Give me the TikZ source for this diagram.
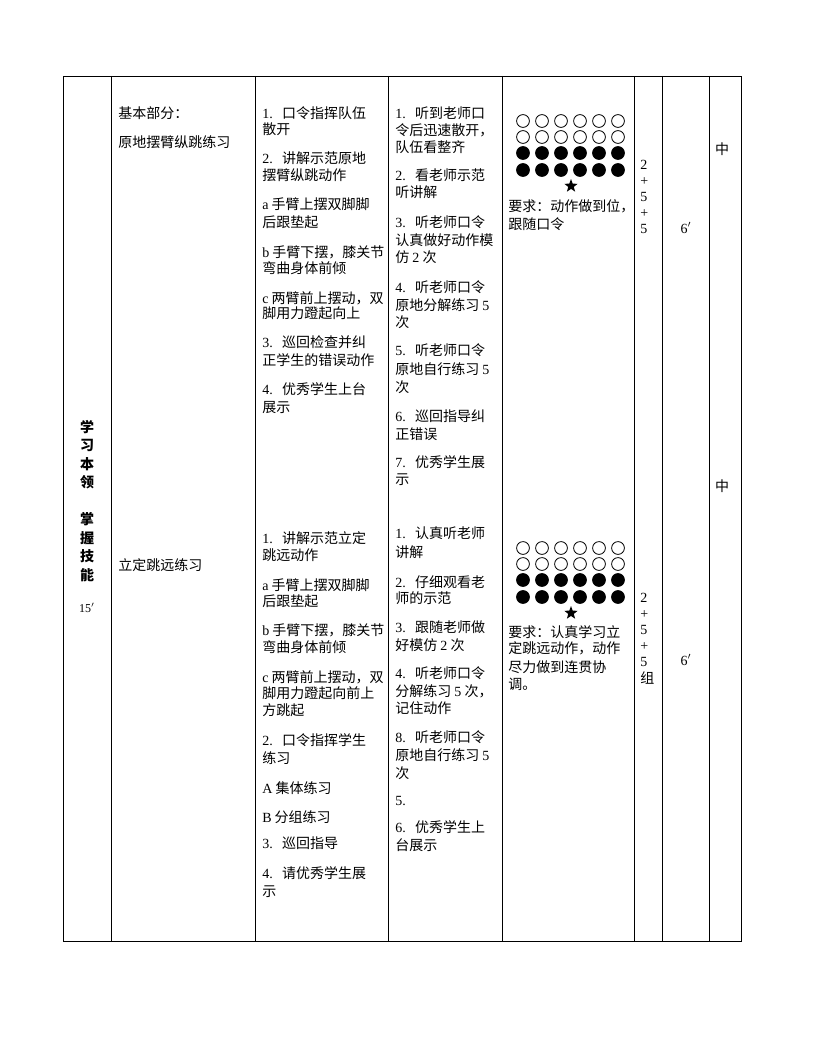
\documentclass[tikz,border=0pt]{standalone}
\usepackage{fontspec}
\setmainfont{Liberation Serif}
\newfontfamily\cjk{Noto Sans CJK SC}
\usetikzlibrary{shapes.geometric}
\newcommand\rn[1]{{\rmfamily #1}}
\newcommand\hs{\hspace{7pt}}
\newcommand\mytxt[4]{\node[tx] (#1) at (#2,#3) {#4};}
\begin{document}
\begin{tikzpicture}[x=0.75pt,y=-0.75pt,
  tx/.style={anchor=west,inner sep=0pt,font=\cjk\fontsize{10.5pt}{12pt}\selectfont,text height=9.2pt,text depth=1.3pt},
  ctx/.style={tx,anchor=center},
  vtx/.style={ctx,font=\cjk\bfseries\fontsize{10.5pt}{12pt}\selectfont},
  small/.style={ctx,font=\rmfamily\fontsize{9pt}{10pt}\selectfont},
  mid/.style={ctx,font=\rmfamily\fontsize{10.5pt}{12pt}\selectfont},
  grid/.style={line width=0.6pt},
  oc/.style={circle,draw,line width=0.6pt,minimum size=9.6pt,inner sep=0pt},
  fc/.style={circle,fill=black,minimum size=10.3pt,inner sep=0pt},
  st/.style={star,star points=5,star point ratio=2.4,fill=black,minimum size=10.5pt,inner sep=0pt}]
\useasboundingbox (0,0) rectangle (816,1056);
% table frame
\draw[grid] (63,76) rectangle (741,941);
\foreach \x in {111,255,388,502,634,662,709} \draw[grid] (\x,76) -- (\x,941);

% column 1 (vertical title)
\node[vtx] (v1) at (87,427) {学};
\node[vtx] (v2) at (87,445.5) {习};
\node[vtx] (v3) at (87,464) {本};
\node[vtx] (v4) at (87,482.5) {领};
\node[vtx] (v5) at (87,519.5) {掌};
\node[vtx] (v6) at (87,538) {握};
\node[vtx] (v7) at (87,556.5) {技};
\node[vtx] (v8) at (87,575) {能};
\node[small] (v9) at (87,607) {15$'$};

% column 2
\mytxt{b1}{118}{113}{基本部分：}
\mytxt{b2}{118}{142}{原地摆臂纵跳练习}
\mytxt{b3}{118}{565}{立定跳远练习}

% column 3 upper
\mytxt{c1}{262}{113}{\rn{1.}\hs 口令指挥队伍}
\mytxt{c2}{262}{129}{散开}
\mytxt{c3}{262}{158}{\rn{2.}\hs 讲解示范原地}
\mytxt{c4}{262}{175}{摆臂纵跳动作}
\mytxt{c5}{262}{204}{\rn{a} 手臂上摆双脚脚}
\mytxt{c6}{262}{222}{后跟垫起}
\mytxt{c7}{262}{252}{\rn{b} 手臂下摆，膝关节}
\mytxt{c8}{262}{268}{弯曲身体前倾}
\mytxt{c9}{262}{298}{\rn{c} 两臂前上摆动，双}
\mytxt{c10}{262}{313}{脚用力蹬起向上}
\mytxt{c11}{262}{342}{\rn{3.}\hs 巡回检查并纠}
\mytxt{c12}{262}{360}{正学生的错误动作}
\mytxt{c13}{262}{389}{\rn{4.}\hs 优秀学生上台}
\mytxt{c14}{262}{407}{展示}

% column 3 lower
\mytxt{d1}{262}{538}{\rn{1.}\hs 讲解示范立定}
\mytxt{d2}{262}{555}{跳远动作}
\mytxt{d3}{262}{585}{\rn{a} 手臂上摆双脚脚}
\mytxt{d4}{262}{601}{后跟垫起}
\mytxt{d5}{262}{630}{\rn{b} 手臂下摆，膝关节}
\mytxt{d6}{262}{647}{弯曲身体前倾}
\mytxt{d7}{262}{677}{\rn{c} 两臂前上摆动，双}
\mytxt{d8}{262}{693}{脚用力蹬起向前上}
\mytxt{d9}{262}{710}{方跳起}
\mytxt{d10}{262}{740}{\rn{2.}\hs 口令指挥学生}
\mytxt{d11}{262}{758}{练习}
\mytxt{d12}{262}{788}{\rn{A} 集体练习}
\mytxt{d13}{262}{817}{\rn{B} 分组练习}
\mytxt{d14}{262}{843}{\rn{3.}\hs 巡回指导}
\mytxt{d15}{262}{873}{\rn{4.}\hs 请优秀学生展}
\mytxt{d16}{262}{891}{示}

% column 4 upper
\mytxt{e1}{395}{113}{\rn{1.}\hs 听到老师口}
\mytxt{e2}{395}{130}{令后迅速散开，}
\mytxt{e3}{395}{147}{队伍看整齐}
\mytxt{e4}{395}{175}{\rn{2.}\hs 看老师示范}
\mytxt{e5}{395}{192}{听讲解}
\mytxt{e6}{395}{222}{\rn{3.}\hs 听老师口令}
\mytxt{e7}{395}{240}{认真做好动作模}
\mytxt{e8}{395}{257}{仿 \rn{2} 次}
\mytxt{e9}{395}{287}{\rn{4.}\hs 听老师口令}
\mytxt{e10}{395}{305}{原地分解练习 \rn{5}}
\mytxt{e11}{395}{322}{次}
\mytxt{e12}{395}{350}{\rn{5.}\hs 听老师口令}
\mytxt{e13}{395}{369}{原地自行练习 \rn{5}}
\mytxt{e14}{395}{387}{次}
\mytxt{e15}{395}{416}{\rn{6.}\hs 巡回指导纠}
\mytxt{e16}{395}{434}{正错误}
\mytxt{e17}{395}{462}{\rn{7.}\hs 优秀学生展}
\mytxt{e18}{395}{479}{示}

% column 4 lower
\mytxt{f1}{395}{533}{\rn{1.}\hs 认真听老师}
\mytxt{f2}{395}{552}{讲解}
\mytxt{f3}{395}{582}{\rn{2.}\hs 仔细观看老}
\mytxt{f4}{395}{598}{师的示范}
\mytxt{f5}{395}{627}{\rn{3.}\hs 跟随老师做}
\mytxt{f6}{395}{645}{好模仿 \rn{2} 次}
\mytxt{f7}{395}{673}{\rn{4.}\hs 听老师口令}
\mytxt{f8}{395}{691}{分解练习 \rn{5} 次，}
\mytxt{f9}{395}{708}{记住动作}
\mytxt{f10}{395}{737}{\rn{8.}\hs 听老师口令}
\mytxt{f11}{395}{755}{原地自行练习 \rn{5}}
\mytxt{f12}{395}{773}{次}
\mytxt{f13}{395}{800}{\rn{5.}}
\mytxt{f14}{395}{827}{\rn{6.}\hs 优秀学生上}
\mytxt{f15}{395}{845}{台展示}

% column 5 upper formation
\foreach \i in {0,...,5} {
  \node[oc] (ua\i) at ({523+19*\i},121) {};
  \node[oc] (ub\i) at ({523+19*\i},137) {};
  \node[fc] (uc\i) at ({523+19*\i},153) {};
  \node[fc] (ud\i) at ({523+19*\i},170) {};
}
\node[st] (us) at (571,186) {};
\mytxt{g1}{508}{206}{要求：动作做到位，}
\mytxt{g2}{508}{224}{跟随口令}

% column 5 lower formation
\foreach \i in {0,...,5} {
  \node[oc] (la\i) at ({523+19*\i},548) {};
  \node[oc] (lb\i) at ({523+19*\i},564) {};
  \node[fc] (lc\i) at ({523+19*\i},580) {};
  \node[fc] (ld\i) at ({523+19*\i},597) {};
}
\node[st] (ls) at (571,613) {};
\mytxt{h1}{508}{632}{要求：认真学习立}
\mytxt{h2}{508}{648}{定跳远动作，动作}
\mytxt{h3}{508}{667}{尽力做到连贯协}
\mytxt{h4}{508}{684}{调。}

% column 6
\mytxt{k1}{640}{164}{\rn{2}}
\mytxt{k2}{640}{180}{\rn{+}}
\mytxt{k3}{640}{196}{\rn{5}}
\mytxt{k4}{640}{212}{\rn{+}}
\mytxt{k5}{640}{228}{\rn{5}}
\mytxt{m1}{640}{597}{\rn{2}}
\mytxt{m2}{640}{613}{\rn{+}}
\mytxt{m3}{640}{629}{\rn{5}}
\mytxt{m4}{640}{645}{\rn{+}}
\mytxt{m5}{640}{661}{\rn{5}}
\mytxt{m6}{640}{678}{组}

% column 7
\node[mid] (t1) at (686,228) {6$'$};
\node[mid] (t2) at (686,660) {6$'$};

% column 8
\node[ctx] (z1) at (722,149) {中};
\node[ctx] (z2) at (722,486) {中};
\end{tikzpicture}
\end{document}
